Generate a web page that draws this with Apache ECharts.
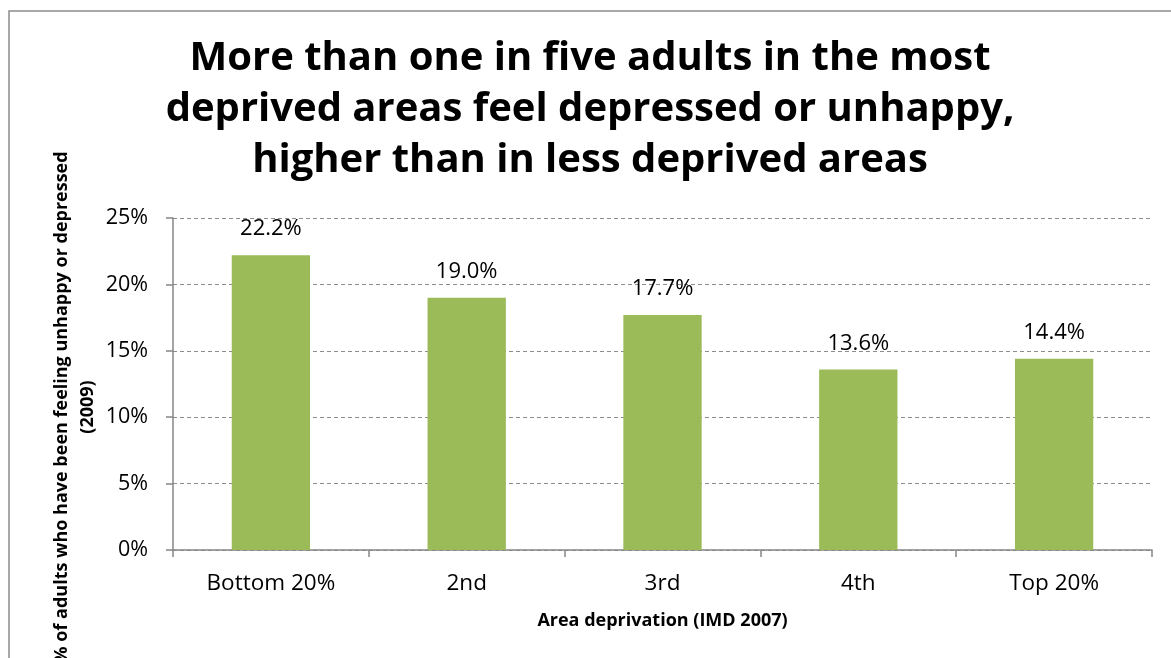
<!DOCTYPE html>
<html>
<head>
<meta charset="utf-8">
<script src="https://cdn.jsdelivr.net/npm/echarts@6/dist/echarts.min.js"></script>
<style>
  html, body { margin: 0; padding: 0; background: #fff; }
  #chart { width: 1171px; height: 658px; }
</style>
</head>
<body>
<div id="chart"></div>
<script>
const categories = ["Bottom 20%", "2nd", "3rd", "4th", "Top 20%"];
const values = [22.2, 19.0, 17.7, 13.6, 14.4];
const titleLines = [
  "More than one in five adults in the most",
  "deprived areas feel depressed or unhappy,",
  "higher than in less deprived areas"
];
const yAxisTitle = ["% of adults who have been feeling unhappy or depressed", "(2009)"];
const xAxisTitle = "Area deprivation (IMD 2007)";

var dom = document.getElementById("chart");
var chart = echarts.init(dom, null, { renderer: "canvas" });
var font = "'Open Sans', 'Noto Sans', sans-serif";

var option = {
  backgroundColor: "#ffffff",
  animation: false,
  textStyle: { fontFamily: font, color: "#000" },
  title: {
    text: titleLines.join("\n"),
    left: 585,
    top: 28,
    textAlign: "center",
    textStyle: {
      fontFamily: font,
      fontSize: 40,
      fontWeight: "bold",
      lineHeight: 51,
      color: "#000",
    },
  },
  graphic: [
    {
      type: "rect",
      silent: true,
      shape: { x: 9, y: 11, width: 1300, height: 800 },
      style: { fill: "none", stroke: "#8c8c8c", lineWidth: 1.5 },
    },
    {
      type: "text",
      silent: true,
      x: 75,
      y: 407,
      rotation: Math.PI / 2,
      style: {
        text: yAxisTitle.join("\n"),
        align: "center",
        verticalAlign: "middle",
        fontFamily: font,
        fontSize: 18,
        fontWeight: "bold",
        lineHeight: 26,
        fill: "#000",
      },
    },
  ],
  grid: {
    left: 173,
    right: 19,
    top: 218,
    bottom: 108,
  },
  xAxis: {
    type: "category",
    data: categories,
    name: xAxisTitle,
    nameLocation: "middle",
    nameGap: 62,
    nameTextStyle: { fontFamily: font, fontSize: 18, fontWeight: "bold", color: "#000" },
    axisLine: { show: true, lineStyle: { color: "#868686", width: 1.5 } },
    axisTick: { show: true, length: 7, alignWithLabel: false, lineStyle: { color: "#868686", width: 1.5 } },
    axisLabel: { fontFamily: font, fontSize: 22.5, color: "#000", margin: 22 },
    splitLine: { show: false },
  },
  yAxis: {
    type: "value",
    min: 0,
    max: 25,
    interval: 5,
    axisLine: { show: true, lineStyle: { color: "#868686", width: 1.5 } },
    axisTick: { show: true, length: 7, lineStyle: { color: "#868686", width: 1.5 } },
    axisLabel: {
      fontFamily: font,
      fontSize: 21.5,
      color: "#000",
      margin: 25,
      formatter: "{value}%",
    },
    splitLine: {
      show: true,
      lineStyle: { color: "#8c8c8c", type: [4, 3], width: 1 },
    },
  },
  series: [
    {
      type: "bar",
      data: values,
      barWidth: "40%",
      itemStyle: { color: "#9BBB59" },
      label: {
        show: true,
        position: "top",
        distance: 15,
        fontFamily: font,
        fontSize: 22,
        color: "#000",
        formatter: function (p) {
          return p.value.toFixed(1) + "%";
        },
      },
    },
  ],
};
option && chart.setOption(option);
</script>
</body>
</html>
